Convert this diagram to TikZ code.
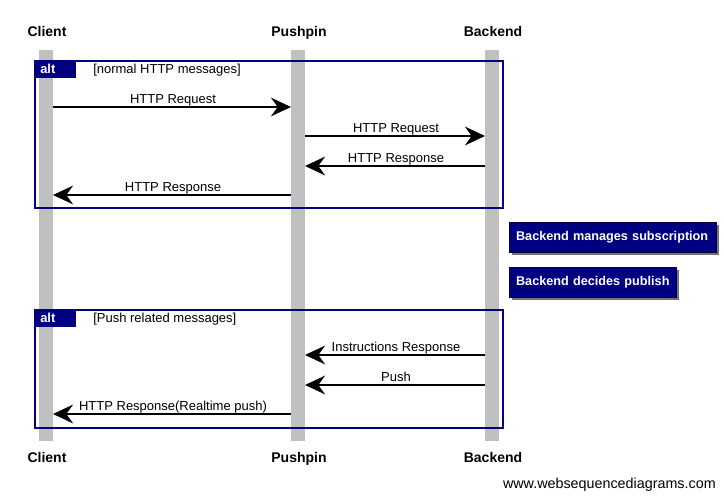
\documentclass[tikz,border=0pt]{standalone}
\usepackage{fontspec}
\setmainfont{Liberation Sans}
\usetikzlibrary{arrows.meta}
\definecolor{navy}{RGB}{0,0,128}
\definecolor{lifegray}{RGB}{192,192,192}
\tikzset{
  actor/.style={font=\bfseries\fontsize{10.5pt}{12pt}\selectfont, inner sep=0pt, anchor=base},
  lifeline/.style={fill=lifegray, draw=none},
  msg/.style={line width=1.5pt, -{Stealth[length=15pt,width=14pt,inset=5pt]}},
  msglabel/.style={font=\fontsize{9.75pt}{11pt}\selectfont, inner sep=0pt, anchor=base},
  altbox/.style={draw=navy, line width=1.7pt},
  alttab/.style={fill=navy, draw=navy},
  alttext/.style={font=\bfseries\fontsize{9.75pt}{11pt}\selectfont, text=white, inner sep=0pt, anchor=base west},
  guard/.style={font=\fontsize{9.75pt}{11pt}\selectfont, inner sep=0pt, anchor=base west},
  notebox/.style={fill=navy, draw=navy!60!black, line width=0.6pt, text=white, font=\bfseries\fontsize{9.5pt}{11pt}\selectfont, inner sep=0pt, inner xsep=5pt, anchor=west, minimum height=22.5pt, align=left},
  notedrop/.style={fill=black!55},
  footer/.style={font=\fontsize{10.75pt}{12pt}\selectfont, inner sep=0pt, anchor=base east}
}
\begin{document}
\begin{tikzpicture}[x=0.75pt,y=-0.75pt]
\useasboundingbox (0,0) rectangle (724,498);
\fill[white] (0,0) rectangle (724,498);
% lifelines
\fill[lifeline] (39,50) rectangle (53,441);
\fill[lifeline] (291,50) rectangle (305,441);
\fill[lifeline] (485,50) rectangle (499,441);
% actors
\node[actor] (clientT) at (47,37) {Client};
\node[actor] (pushT) at (299,37) {Pushpin};
\node[actor] (backT) at (493,37) {Backend};
\node[actor] (clientB) at (47,462) {Client};
\node[actor] (pushB) at (299,462) {Pushpin};
\node[actor] (backB) at (493,462) {Backend};
% alt 1
\draw[altbox] (35,61) rectangle (503,208);
\fill[alttab] (35,61) rectangle (75,77);
\node[alttext] (alt1) at (40,74) {alt};
\node[guard] (g1) at (93,74) {[normal HTTP messages]};
% coordinates
\coordinate (c1) at (53,107); \coordinate (p1) at (291,107);
\coordinate (p2) at (305,136); \coordinate (b2) at (485,136);
\coordinate (b3) at (485,166); \coordinate (p3) at (305,166);
\coordinate (p4) at (291,195); \coordinate (c4) at (53,195);
\draw[msg] (c1) -- (p1);
\node[msglabel] (l1) at (173,103.5) {HTTP Request};
\draw[msg] (p2) -- (b2);
\node[msglabel] (l2) at (396,132.5) {HTTP Request};
\draw[msg] (b3) -- (p3);
\node[msglabel] (l3) at (396,162.5) {HTTP Response};
\draw[msg] (p4) -- (c4);
\node[msglabel] (l4) at (173,191.5) {HTTP Response};
% notes
\fill[notedrop] (512,225) rectangle (719,255);
\node[notebox, text width=145.25pt] (n1) at (509,237) {Backend manages subscription};
\fill[notedrop] (512,270) rectangle (679,300);
\node[notebox, text width=115.25pt] (n2) at (509,282) {Backend decides publish};
% alt 2
\draw[altbox] (35,310) rectangle (503,428);
\fill[alttab] (35,310) rectangle (75,326);
\node[alttext] (alt2) at (40,323) {alt};
\node[guard] (g2) at (93,323) {[Push related messages]};
\coordinate (b5) at (485,355); \coordinate (p5) at (305,355);
\coordinate (b6) at (485,385); \coordinate (p6) at (305,385);
\coordinate (p7) at (291,414); \coordinate (c7) at (53,414);
\draw[msg] (b5) -- (p5);
\node[msglabel] (l5) at (396,351.5) {Instructions Response};
\draw[msg] (b6) -- (p6);
\node[msglabel] (l6) at (396,381.5) {Push};
\draw[msg] (p7) -- (c7);
\node[msglabel] (l7) at (173,410.5) {HTTP Response(Realtime push)};
% footer
\node[footer] (foot) at (716,488) {www.websequencediagrams.com};
\end{tikzpicture}
\end{document}
